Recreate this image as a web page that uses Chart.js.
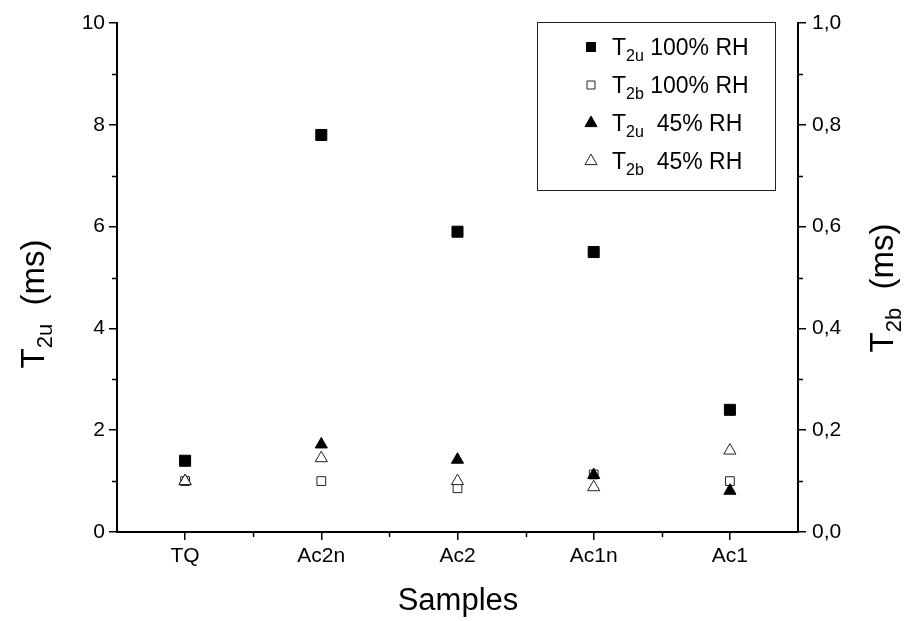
<!DOCTYPE html>
<html>
<head>
<meta charset="utf-8">
<script src="https://cdn.jsdelivr.net/npm/chart.js@4.4.1/dist/chart.umd.min.js"></script>
<style>
  html, body { margin: 0; padding: 0; background: #fff; }
  #wrap { width: 914px; height: 621px; }
</style>
</head>
<body>
<div id="wrap"><canvas id="myChart" width="914" height="621"></canvas></div>
<script>
// ---------------- data ----------------
const categories = ['TQ', 'Ac2n', 'Ac2', 'Ac1n', 'Ac1'];
const t2u100 = [1.4, 7.8, 5.9, 5.5, 2.4];        // left axis, ms
const t2b100 = [0.10, 0.10, 0.086, 0.113, 0.10]; // right axis, ms
const t2u45 = [1.0, 1.72, 1.42, 1.12, 0.81];     // left axis, ms
const t2b45 = [0.10, 0.145, 0.10, 0.088, 0.16];  // right axis, ms

const FONT = '"Liberation Sans", Arial, sans-serif';

// draws "T" + subscript + rest, starting at x on baseline y
function drawSubText(ctx, x, y, main, sub, rest, size) {
	ctx.font = size + 'px ' + FONT;
	ctx.fillText(main, x, y);
	x += ctx.measureText(main).width;
	const subSize = Math.round(size * 0.68);
	ctx.font = subSize + 'px ' + FONT;
	ctx.fillText(sub, x, y + size * 0.25);
	x += ctx.measureText(sub).width;
	ctx.font = size + 'px ' + FONT;
	ctx.fillText(rest, x, y);
}
function subTextWidth(ctx, main, sub, rest, size) {
	ctx.font = size + 'px ' + FONT;
	let w = ctx.measureText(main).width + ctx.measureText(rest).width;
	ctx.font = Math.round(size * 0.68) + 'px ' + FONT;
	return w + ctx.measureText(sub).width;
}

function marker(ctx, style, filled, x, y, r) {
	ctx.beginPath();
	if (style === 'rect') {
		ctx.rect(x - r, y - r, 2 * r, 2 * r);
	} else {
		ctx.moveTo(x, y - r * 1.15);
		ctx.lineTo(x + r, y + r * 0.6);
		ctx.lineTo(x - r, y + r * 0.6);
		ctx.closePath();
	}
	ctx.fillStyle = filled ? '#000' : '#fff';
	ctx.fill();
	ctx.lineWidth = 1;
	ctx.strokeStyle = filled ? '#000' : '#222';
	ctx.stroke();
}

const legendRows = [
	{ sub: '2u', rest: ' 100% RH', style: 'rect', filled: true, r: 4.5 },
	{ sub: '2b', rest: ' 100% RH', style: 'rect', filled: false, r: 4 },
	{ sub: '2u', rest: '  45% RH', style: 'tri', filled: true, r: 6 },
	{ sub: '2b', rest: '  45% RH', style: 'tri', filled: false, r: 6 }
];

const decorPlugin = {
	id: 'decor',
	afterDraw(chart) {
		const ctx = chart.ctx;
		const x = chart.scales.x, y = chart.scales.y, y2 = chart.scales.y2;
		ctx.save();
		// minor ticks
		ctx.strokeStyle = '#000';
		ctx.lineWidth = 1.5;
		ctx.beginPath();
		for (let v = 1; v < 10; v += 2) {
			const py = Math.round(y.getPixelForValue(v)) + 0.5;
			ctx.moveTo(y.right, py); ctx.lineTo(y.right - 5, py);
		}
		for (let v = 0.1; v < 1; v += 0.2) {
			const py = Math.round(y2.getPixelForValue(v)) + 0.5;
			ctx.moveTo(y2.left, py); ctx.lineTo(y2.left + 5, py);
		}
		for (let i = 0; i < categories.length - 1; i++) {
			const px = Math.round((x.getPixelForTick(i) + x.getPixelForTick(i + 1)) / 2) + 0.5;
			ctx.moveTo(px, x.top); ctx.lineTo(px, x.top + 5);
		}
		ctx.stroke();

		// legend box
		ctx.lineWidth = 1;
		ctx.strokeStyle = '#222';
		ctx.strokeRect(537.5, 22.5, 238, 168);
		ctx.fillStyle = '#000';
		ctx.textBaseline = 'alphabetic';
		ctx.textAlign = 'left';
		legendRows.forEach((row, i) => {
			const cy = 47 + i * 38;
			marker(ctx, row.style, row.filled, 591, cy, row.r);
			ctx.fillStyle = '#000';
			drawSubText(ctx, 612, cy + 8, 'T', row.sub, row.rest, 23);
		});

		// axis titles
		ctx.fillStyle = '#000';
		ctx.save();
		ctx.translate(44, 304);
		ctx.rotate(-Math.PI / 2);
		let w = subTextWidth(ctx, 'T', '2u', '  (ms)', 33);
		drawSubText(ctx, -w / 2, 0, 'T', '2u', '  (ms)', 33);
		ctx.restore();

		ctx.save();
		ctx.translate(893, 288);
		ctx.rotate(-Math.PI / 2);
		w = subTextWidth(ctx, 'T', '2b', '  (ms)', 33);
		drawSubText(ctx, -w / 2, 0, 'T', '2b', '  (ms)', 33);
		ctx.restore();

		ctx.font = '31px ' + FONT;
		ctx.textAlign = 'center';
		ctx.fillText('Samples', 458, 610);
		ctx.restore();
	}
};

const ctx = document.getElementById('myChart');
const axisGrid = {
	display: true,
	drawOnChartArea: false,
	drawTicks: true,
	tickLength: 8,
	color: '#000',
	lineWidth: 1.5
};
const axisBorder = { display: true, color: '#000', width: 2 };

const myChart = new Chart(ctx, {
	type: 'line',
	data: {
		labels: categories,
		datasets: [
			{
				label: 'T2u 100% RH', data: t2u100, yAxisID: 'y', order: 4,
				showLine: false, pointStyle: 'rect', pointRadius: 7.8,
				backgroundColor: '#000', borderColor: '#000', pointBorderWidth: 1
			},
			{
				label: 'T2b 100% RH', data: t2b100, yAxisID: 'y2', order: 3,
				showLine: false, pointStyle: 'rect', pointRadius: 6.2,
				backgroundColor: '#fff', borderColor: '#222', pointBorderWidth: 1
			},
			{
				label: 'T2u 45% RH', data: t2u45, yAxisID: 'y', order: 2,
				showLine: false, pointStyle: 'triangle', pointRadius: 7,
				backgroundColor: '#000', borderColor: '#000', pointBorderWidth: 1
			},
			{
				label: 'T2b 45% RH', data: t2b45, yAxisID: 'y2', order: 1,
				showLine: false, pointStyle: 'triangle', pointRadius: 7,
				backgroundColor: '#fff', borderColor: '#222', pointBorderWidth: 1
			}
		]
	},
	options: {
		responsive: false,
		animation: false,
		devicePixelRatio: 1,
		layout: { padding: { top: 23, left: 0, right: 0, bottom: 0 } },
		plugins: { legend: { display: false }, tooltip: { enabled: false } },
		scales: {
			x: {
				type: 'category',
				offset: true,
				grid: Object.assign({}, axisGrid, { offset: false }),
				border: axisBorder,
				ticks: { color: '#000', padding: 4, font: { family: FONT, size: 21 }, maxRotation: 0 },
				afterFit(s) { s.height = 89; }
			},
			y: {
				position: 'left',
				min: 0, max: 10,
				grid: axisGrid,
				border: axisBorder,
				ticks: { stepSize: 2, color: '#000', padding: 4, font: { family: FONT, size: 21 } },
				afterFit(s) { s.width = 117; }
			},
			y2: {
				position: 'right',
				min: 0, max: 1,
				grid: axisGrid,
				border: axisBorder,
				ticks: {
					stepSize: 0.2, color: '#000', padding: 6, font: { family: FONT, size: 21 },
					callback: v => v.toFixed(1).replace('.', ',')
				},
				afterFit(s) { s.width = 116; }
			}
		}
	},
	plugins: [decorPlugin]
});
</script>
</body>
</html>
